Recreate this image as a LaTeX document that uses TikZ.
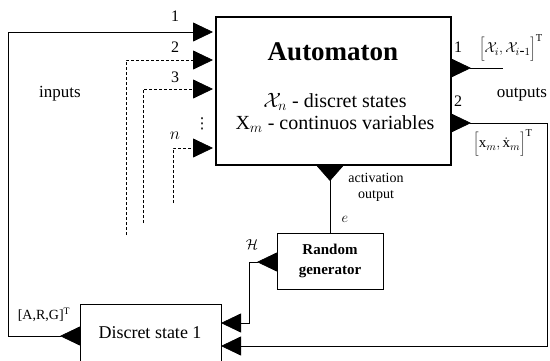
\documentclass[tikz,border=0pt]{standalone}
\usepackage{fontspec}
\setmainfont{Liberation Serif}
\newfontfamily\dejavu{DejaVu Sans}
\usetikzlibrary{arrows.meta}
\tikzset{
  porttip/.tip={Triangle[length=20pt,width=19pt]},
  acttip/.tip={Triangle[length=16pt,width=28pt]},
  conn/.style={line width=0.8pt},
  dconn/.style={line width=0.8pt,dash pattern=on 3pt off 2pt},
  box/.style={draw,line width=0.8pt,fill=white,inner sep=0pt,align=center},
  lab/.style={inner sep=0pt,font=\fontsize{16}{18}\selectfont},
  small/.style={inner sep=0pt,font=\fontsize{14}{16}\selectfont},
}
\begin{document}
\begin{tikzpicture}[x=1pt,y=-1pt]
\useasboundingbox (0,0) rectangle (550,360);
% blocks
\node[box,line width=1.8pt,minimum width=235pt,minimum height=148pt] (auto) at (333.5,91) {};
\node[lab,font=\fontsize{27}{30}\selectfont\bfseries] (autot) at (333,52) {Automaton};
\node[lab,font=\fontsize{20}{23}\selectfont] (st1) at (335,102) {$\mathcal{X}_n$ - discret states};
\node[lab,font=\fontsize{20}{23}\selectfont] (st2) at (335,124) {X$_m$ - continuos variables};
\node[box,minimum width=106pt,minimum height=56pt,font=\fontsize{15}{20}\selectfont\bfseries] (rg) at (330,261) {Random\\generator};
\node[box,minimum width=141pt,minimum height=58pt] (ds) at (150.5,333) {};
\node[lab,font=\fontsize{18}{20}\selectfont] (dst) at (150,333) {Discret state 1};
% port coordinates
\coordinate (in1) at (213,32);
\coordinate (in2) at (213,60);
\coordinate (in3) at (213,89);
\coordinate (inN) at (213,148);
\coordinate (out1) at (451,68);
\coordinate (out1e) at (503,68);
\coordinate (out2) at (451,123);
\coordinate (out2c) at (547,123);
\coordinate (act) at (330,165);
\coordinate (rgout) at (277,262);
\coordinate (rgc) at (249,262);
\coordinate (dsin1) at (221,323);
\coordinate (dsin2) at (221,346);
\coordinate (dsout) at (80,336);
\coordinate (lc) at (8,336);
\coordinate (d2) at (126,235);
\coordinate (d3) at (143,223);
\coordinate (dN) at (173,203);
% connectors
\draw[conn,{porttip[reversed]}-{porttip}] (dsout) -- (lc) |- (in1);
\draw[dconn,-{porttip}] (d2) |- (in2);
\draw[dconn,-{porttip}] (d3) |- (in3);
\draw[dconn,-{porttip}] (dN) |- (inN);
\draw[conn,{porttip[reversed]}-] (out1) -- (out1e);
\draw[conn,{porttip[reversed]}-{porttip}] (out2) -- (out2c) |- (dsin2);
\draw[conn,{acttip[reversed]}-] (act) -- (rg.north);
\draw[conn,{porttip[reversed]}-{porttip}] (rgout) -- (rgc) |- (dsin1);
% labels
\node[lab] (l1) at (175,16) {1};
\node[lab] (l2) at (175,47) {2};
\node[lab] (l3) at (175,77) {3};
\node[lab] (lN) at (175,136) {$n$};
\node[lab,font=\fontsize{15}{17}\dejavu] (ldots) at (202,124) {⋮};
\node[lab,font=\fontsize{17}{19}\selectfont] (linp) at (60,94) {inputs};
\node[lab] (o1) at (458,47) {1};
\node[lab] (o2) at (458,101) {2};
\node[lab,font=\fontsize{17}{19}\selectfont] (loutp) at (522,95) {outputs};
\node[small,font=\fontsize{15}{17}\selectfont] (lo1) at (511,48) {$\bigg[\mathcal{X}_i,\mathcal{X}_{i\mbox{-}1}\bigg]^{\mathrm{T}}$};
\node[small,font=\fontsize{15}{17}\selectfont] (lo2) at (503,143) {$\bigg[\mathrm{x}_m,\dot{\mathrm{x}}_m\bigg]^{\mathrm{T}}$};
\node[small] (la1) at (376,178) {activation};
\node[small] (la2) at (376,196) {output};
\node[small] (le) at (345,219) {$e$};
\node[small] (lH) at (252,245) {$\mathcal{H}$};
\node[small] (lARG) at (44,315) {[A,R,G]$^{\mathrm{T}}$};
\end{tikzpicture}
\end{document}
